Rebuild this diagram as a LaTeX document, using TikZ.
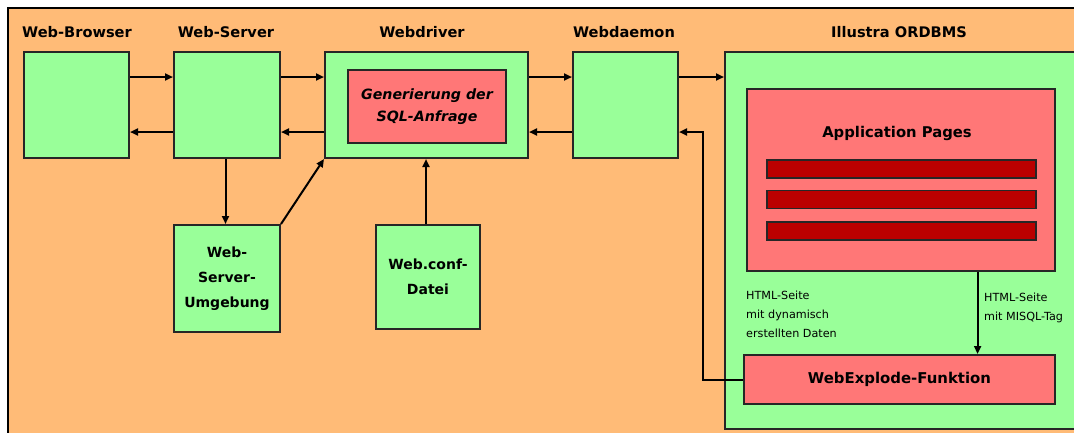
\documentclass[tikz,border=0pt]{standalone}
\usepackage{fontspec}
\setmainfont{DejaVu Sans}
\usetikzlibrary{arrows.meta}
\definecolor{bgorange}{RGB}{255,187,119}
\definecolor{boxgreen}{RGB}{153,255,153}
\definecolor{boxred}{RGB}{255,119,119}
\definecolor{bardark}{RGB}{187,0,0}
\tikzset{
  gbox/.style={draw=black!85, line width=2pt, fill=boxgreen, anchor=north west, inner sep=0pt, align=center, font=\bfseries\fontsize{14}{25}\selectfont},
  rbox/.style={draw=black!85, line width=2pt, fill=boxred, anchor=north west, inner sep=0pt, align=center},
  barbox/.style={draw=black!85, line width=1.8pt, fill=bardark, anchor=north west, inner sep=0pt, minimum width=269pt, minimum height=18pt},
  head/.style={font=\bfseries\fontsize{14.6}{16}\selectfont, anchor=center},
  small/.style={font=\fontsize{11.2}{19.2}\selectfont, anchor=north west, align=left, inner sep=0pt},
  conn/.style={line width=2pt, -{Triangle[length=8pt,width=7pt]}},
}
\begin{document}
\begin{tikzpicture}[x=1pt,y=-1pt]
\useasboundingbox (0,0) rectangle (1074,432);
\clip (0,0) rectangle (1074,432);
\fill[white] (0,0) rectangle (1074,432);
\fill[bgorange] (8,8) rectangle (1150,440);
\draw[line width=2.2pt] (7.6,440) -- (7.6,7.6) -- (1150,7.6);
% headings
\node[head] (hbrowser) at (77,31.7) {Web-Browser};
\node[head] (hserver) at (226,31.7) {Web-Server};
\node[head] (hdriver) at (422,31.7) {Webdriver};
\node[head] (hdaemon) at (624,31.7) {Webdaemon};
\node[head] (hordbms) at (899,31.7) {Illustra ORDBMS};
% boxes
\node[gbox, minimum width=105pt, minimum height=106pt] (browser) at (23,51) {};
\node[gbox, minimum width=106pt, minimum height=106pt] (server) at (173,51) {};
\node[gbox, minimum width=203pt, minimum height=106pt] (driver) at (324,51) {};
\node[rbox, minimum width=158pt, minimum height=73pt, font=\bfseries\itshape\fontsize{14.2}{22.7}\selectfont] (sqlgen) at (347,69) {Generierung der\\SQL-Anfrage};
\node[gbox, minimum width=105pt, minimum height=106pt] (daemon) at (572,51) {};
\node[gbox, minimum width=420pt, minimum height=377pt] (ordbms) at (724,51) {};
\node[rbox, minimum width=308pt, minimum height=182pt] (apppages) at (746,88) {};
\node[font=\bfseries\fontsize{14.8}{16}\selectfont] (applabel) at (897,133) {Application Pages};
\node[barbox] (bar1) at (766,159) {};
\node[barbox] (bar2) at (766,189.5) {};
\node[barbox] (bar3) at (766,221) {};
\node[rbox, minimum width=311pt, minimum height=49pt, font=\bfseries\fontsize{14.9}{16}\selectfont] (explode) at (743,354) {WebExplode-Funktion};
\node[gbox, minimum width=106pt, minimum height=107pt] (umgebung) at (173,224) {Web-\\Server-\\Umgebung};
\node[gbox, minimum width=104pt, minimum height=104pt] (conf) at (375,224) {Web.conf-\\Datei};
% small texts
\node[small] (txtleft) at (746,290.5) {HTML-Seite\\mit dynamisch\\erstellten Daten};
\node[small] (txtright) at (984,292.8) {HTML-Seite\\mit MISQL-Tag};
% connectors
\draw[conn] (browser.east |- 0,77) -- (server.west |- 0,77);
\draw[conn] (server.west |- 0,132) -- (browser.east |- 0,132);
\draw[conn] (server.east |- 0,77) -- (driver.west |- 0,77);
\draw[conn] (driver.west |- 0,132) -- (server.east |- 0,132);
\draw[conn] (driver.east |- 0,77) -- (daemon.west |- 0,77);
\draw[conn] (daemon.west |- 0,132) -- (driver.east |- 0,132);
\draw[conn] (daemon.east |- 0,77) -- (ordbms.west |- 0,77);
\draw[conn] (server.south -| 225.5,0) -- (umgebung.north -| 225.5,0);
\draw[conn] (umgebung.north east) -- (driver.south west);
\draw[conn] (conf.north -| 426,0) -- (driver.south -| 426,0);
\draw[conn] (apppages.south -| 977.6,0) -- (explode.north -| 977.6,0);
\coordinate (bend1) at (703,380);
\coordinate (bend2) at (703,132);
\draw[conn] (explode.west |- bend1) -- (bend1) -- (bend2) -- (daemon.east |- bend2);
\end{tikzpicture}
\end{document}
